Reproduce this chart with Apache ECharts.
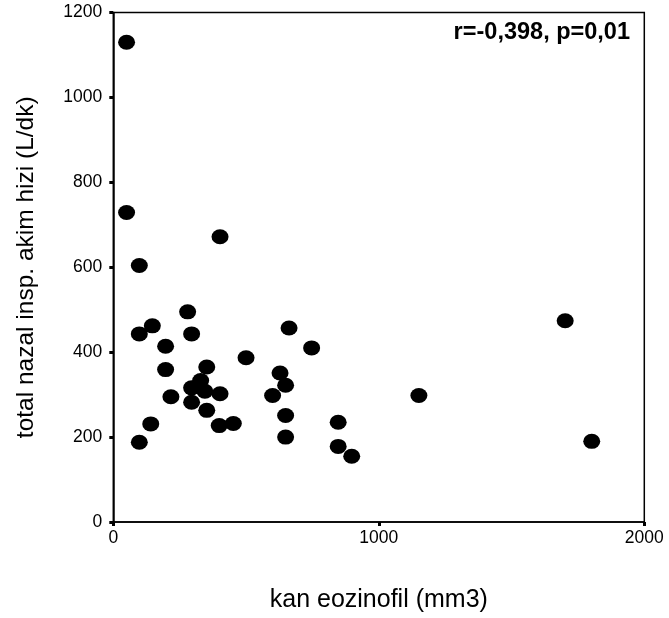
<!DOCTYPE html>
<html>
<head>
<meta charset="utf-8">
<script src="https://cdn.jsdelivr.net/npm/echarts@6/dist/echarts.min.js"></script>
<style>html,body{margin:0;padding:0;background:#fff}#c{width:669px;height:618px}</style>
</head>
<body>
<div id="c"></div>
<script>
// eosinophil counts (mm3)
const eozinofil = [50, 50, 402, 98, 280, 98, 147, 295, 197, 662, 747, 500, 197, 352, 628, 649, 329, 295, 345, 402, 217, 295, 600, 352, 649, 141, 399, 452, 847, 98, 649, 847, 898, 1151, 1702, 1802];
// total nasal inspiratory flow (L/dk)
const akimHizi = [1130, 729, 672, 604, 495, 443, 462, 443, 414, 457, 410, 387, 359, 365, 351, 322, 333, 316, 308, 302, 295, 282, 298, 263, 251, 231, 227, 232, 235, 188, 200, 178, 155, 298, 474, 190];
const xTicks = [0, 1000, 2000];
const yTicks = [0, 200, 400, 600, 800, 1000, 1200];
const statText = 'r=-0,398, p=0,01';

const points = eozinofil.map((x, i) => [x, akimHizi[i]]);
const FONT = '"Liberation Sans", Arial, Helvetica, sans-serif';

const chart = echarts.init(document.getElementById('c'), null, {renderer: 'canvas'});
chart.setOption({
  animation: false,
  backgroundColor: '#fff',
  grid: {left: 113.3, top: 12.5, right: 24.7, bottom: 95.5, show: true, borderColor: '#000', borderWidth: 1.5, backgroundColor: 'transparent'},
  xAxis: {
    type: 'value', min: xTicks[0], max: xTicks[xTicks.length - 1], interval: 1000,
    name: 'kan eozinofil (mm3)', nameLocation: 'middle', nameGap: 66,
    nameTextStyle: {fontFamily: FONT, fontSize: 25, color: '#000'},
    axisLine: {show: true, lineStyle: {color: '#000', width: 1.5}},
    axisTick: {show: true, length: 4, lineStyle: {color: '#000', width: 3}},
    axisLabel: {margin: 7, fontFamily: FONT, fontSize: 17.5, color: '#000', formatter: v => String(v)},
    splitLine: {show: false}
  },
  yAxis: {
    type: 'value', min: yTicks[0], max: yTicks[yTicks.length - 1], interval: 200,
    name: 'total nazal insp. akim hizi (L/dk)', nameLocation: 'middle', nameGap: 75,
    nameTextStyle: {fontFamily: FONT, fontSize: 24.5, color: '#000'},
    axisLine: {show: true, lineStyle: {color: '#000', width: 1.5}},
    axisTick: {show: true, length: 4, lineStyle: {color: '#000', width: 3}},
    axisLabel: {margin: 11, fontFamily: FONT, fontSize: 17.5, color: '#000', formatter: v => String(v)},
    splitLine: {show: false}
  },
  graphic: [{
    type: 'text', right: 39, top: 21,
    style: {text: statText, fontFamily: FONT, fontWeight: 'bold', fontSize: 23.5, fill: '#000'}
  }],
  series: [{
    type: 'scatter',
    data: points,
    symbol: 'circle',
    symbolSize: [17, 15],
    itemStyle: {color: '#000', opacity: 1},
    emphasis: {disabled: true}
  }]
});
</script>
</body>
</html>
